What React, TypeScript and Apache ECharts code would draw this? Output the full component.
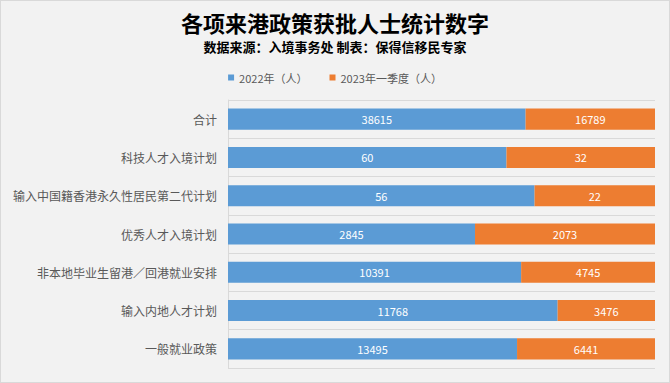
import React, { useEffect, useRef } from "react";
import * as echarts from "echarts";

const categories = [
  "合计",
  "科技人才入境计划",
  "输入中国籍香港永久性居民第二代计划",
  "优秀人才入境计划",
  "非本地毕业生留港／回港就业安排",
  "输入内地人才计划",
  "一般就业政策",
];
const values2022 = [38615, 60, 56, 2845, 10391, 11768, 13495];
const values2023Q1 = [16789, 32, 22, 2073, 4745, 3476, 6441];
const seriesNames = ["2022年（人）", "2023年一季度（人）"];

export default function App() {
  const ref = useRef<HTMLDivElement>(null);
  useEffect(() => {
    if (!ref.current) return;
    const chart = echarts.init(ref.current, undefined, { renderer: "svg" });
    const totals = values2022.map((v, i) => v + values2023Q1[i]);
    const pct = (arr: number[]) => arr.map((v, i) => (v / totals[i]) * 100);
    const raw = [values2022, values2023Q1];
    const colors = ["#5b9bd5", "#ed7d31"];
    chart.setOption({
      animation: false,
      backgroundColor: "#f2f2f2",
      textStyle: { fontFamily: "'Noto Sans CJK SC', 'Noto Sans', sans-serif" },
      title: [
        {
          text: "各项来港政策获批人士统计数字",
          left: "center",
          top: 10,
          padding: 0,
          textStyle: { fontSize: 22, lineHeight: 22, fontWeight: "bold", color: "#000", fontFamily: "'Noto Sans CJK SC', sans-serif" },
        },
        {
          text: "数据来源：入境事务处 制表：保得信移民专家",
          left: "center",
          top: 39,
          padding: 0,
          textStyle: { fontSize: 13, lineHeight: 13, fontWeight: "bold", color: "#000", fontFamily: "'Noto Sans CJK SC', sans-serif" },
        },
      ],
      legend: {
        top: 66,
        left: "center",
        itemWidth: 6,
        itemHeight: 6,
        itemGap: 22,
        itemTextGap: 3,
        icon: "rect",
        textStyle: { fontSize: 11, color: "#595959" },
        data: seriesNames,
      },
      grid: { left: 227, right: 14, top: 99, bottom: 14, containLabel: false },
      xAxis: {
        type: "value",
        min: 0,
        max: 100,
        show: false,
      },
      yAxis: {
        type: "category",
        inverse: true,
        data: categories,
        axisLine: { show: true, lineStyle: { color: "#d9d9d9" } },
        axisTick: { show: false },
        splitLine: { show: true, lineStyle: { color: "#d9d9d9" } },
        axisLabel: { fontSize: 12, color: "#595959", margin: 11 },
      },
      series: [0, 1].map((s) => ({
        name: seriesNames[s],
        type: "bar",
        stack: "total",
        barCategoryGap: "45%",
        data: pct(raw[s]),
        itemStyle: { color: colors[s] },
        label: {
          show: true,
          position: "inside",
          color: "#fff",
          fontSize: 11,
          formatter: (p: any) => String(raw[s][p.dataIndex]),
        },
      })),
    });
    return () => chart.dispose();
  }, []);
  return (
    <div
      style={{
        position: "fixed",
        left: 0,
        top: 0,
        width: 670,
        height: 383,
        border: "1px solid #d9d9d9",
        boxSizing: "border-box",
      }}
    >
      <div ref={ref} style={{ width: 668, height: 381 }} />
    </div>
  );
}
